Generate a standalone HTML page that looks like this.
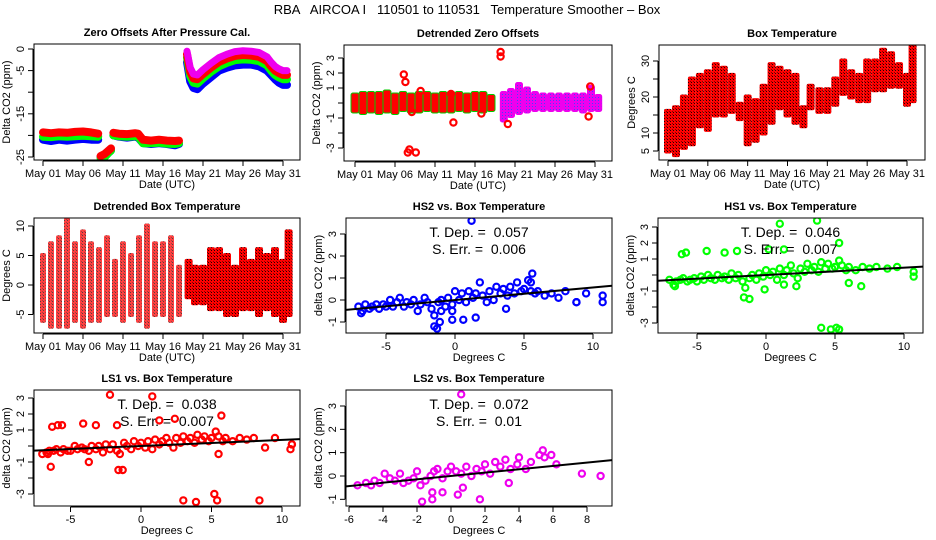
<!DOCTYPE html>
<html><head><meta charset="utf-8">
<style>
html,body{margin:0;padding:0;background:#fff;}
svg{display:block;font-family:"Liberation Sans",sans-serif;}
.pre{white-space:pre;}
</style></head>
<body>
<svg id="fig" width="936" height="540" viewBox="0 0 936 540" xmlns="http://www.w3.org/2000/svg">
<defs>
<pattern id="chk" width="3" height="3" patternUnits="userSpaceOnUse"><rect width="3" height="3" fill="#f00"/><rect x="1" y="1" width="1" height="1" fill="#200"/><rect x="0" y="0" width="1" height="1" fill="#800"/></pattern>
<pattern id="chk2" width="3" height="3" patternUnits="userSpaceOnUse"><rect width="3" height="3" fill="#e0e"/><rect x="1" y="1" width="1" height="1" fill="#44f"/></pattern>
</defs>
<text class="pre" x="467" y="14" text-anchor="middle" font-size="13">RBA   AIRCOA I   110501 to 110531   Temperature Smoother – Box</text>
</svg>
<script>
// ---------- data ----------
const dateTicks=[0,5,10,15,20,25,30];
const dateLabels=["May 01","May 06","May 11","May 16","May 21","May 26","May 31"];
const t1=[0,1,2,3,4,5,6,6.9,null,7.2,7.7,8.2,8.5,null,8.8,9.5,10.5,11.5,11.9,12.5,13.5,14.5,15.5,16.5,17,null,18,18.4,18.8,19.3,20,21,22,23,24,25,26,27,28,28.5,29,29.5,30,30.5];
const blue1=[-21,-21.3,-21,-21.2,-21,-20.8,-21,-21,null,-25,-25,-24,-23.5,null,-20,-20.3,-20.5,-20.3,-20.5,-21.8,-22,-21.8,-22,-22.3,-22,null,-3,-7.5,-9,-9.3,-8,-6.5,-5,-4.3,-3.8,-3.6,-3.6,-4,-5,-6,-7,-7.8,-8.3,-8.3];
const green1=[-20.3,-20.4,-20.2,-20.3,-20.2,-20.1,-20.2,-20.3,null,-25.3,-25,-24,-23.5,null,-20,-20.2,-20.3,-20.2,-20.3,-21.8,-21.8,-21.7,-21.9,-22,-21.8,null,-2,-6.3,-7.8,-8,-6.8,-5.3,-4,-3.2,-2.6,-2.4,-2.5,-2.8,-3.8,-5,-6,-6.6,-7,-7];
const red1=[-19.3,-19.5,-19.3,-19.4,-19.2,-19.1,-19.3,-19.6,null,-24.8,-24.3,-23.5,-23,null,-19.4,-19.6,-19.7,-19.5,-19.6,-21,-21.2,-21,-21.2,-21.3,-21.2,null,-1.2,-5.3,-6.8,-7,-5.8,-4.3,-3,-2.2,-1.6,-1.4,-1.5,-1.8,-2.8,-4,-5,-5.6,-6,-6];
const mag1=[null,null,null,null,null,null,null,null,null,null,null,null,null,null,null,null,null,null,null,null,null,null,null,null,null,null,-0.5,-4.3,-5.8,-6,-4.8,-3.3,-2,-1.2,-0.6,-0.4,-0.5,-0.8,-1.8,-3,-4,-4.6,-5,-5];
const t2=[0,1,2,3,4,5,6,7,8,9,10,11,12,13,14,15,16,17,18.6,19.5,20.5,21.5,22.5,23.5,24.5,25.5,26.5,27.5,28.5,29.5,30.4];
const lo2=[-0.5,-0.6,-0.5,-0.6,-0.5,-0.6,-0.4,-0.5,-0.5,-0.4,-0.5,-0.5,-0.5,-0.4,-0.5,-0.4,-0.5,-0.4,-1.1,-0.8,-0.6,-0.5,-0.4,-0.4,-0.4,-0.4,-0.4,-0.4,-0.5,-0.4,-0.4];
const hi2=[0.5,0.6,0.6,0.6,0.7,0.5,0.6,0.5,0.6,0.6,0.5,0.6,0.6,0.6,0.5,0.6,0.6,0.4,0.6,0.8,1.2,0.9,0.6,0.5,0.5,0.5,0.5,0.5,0.5,1.0,0.4];
const outT2=[6.1,6.3,6.6,6.8,7.6,7.1,12.3,15.8,18.2,18.2,19.1,29.2,29.4,8.2,12.0];
const outV2=[1.9,1.4,-3.3,-3.1,-3.3,-0.6,-1.3,-0.7,3.4,3.1,-1.4,-0.9,1.1,0.8,0.6];
const t3=[0,1,2,3,4,5,6,7,8,9,10,11,12,13,14,15,16,17,17.9,19,20,21,22,23,24,25,26,27,28,29,30,30.7];
const lo3=[5,4,6,7,12,11,15,15,16,14,7,8,10,13,17,15,13,12,17,16,16,18,21,20,19,19,22,22,23,23,18,19];
const hi3=[16,17,20,25,26,27,29,28,26,18,20,19,23,29,28,27,26,17,23,22,22,25,30,27,26,30,30,33,32,29,26,34];
const t4=[0,1,2,3,4,5,6,7,8,9,10,11,12,13,14,15,16,17,18.2,19,20,21,22,23,24,25,26,27,28,29,30,30.7];
const lo4=[-6,-7,-7,-7,-6,-7,-6,-6,-5,-5,-6,-5,-6,-7,-5,-5,-6,-5,-2,-3,-3,-4,-4,-5,-5,-4,-4,-5,-4,-5,-6,-5];
const hi4=[5,7,8,11,7,9,7,6,8,4,7,5,8,10,7,7,8,3,4,3,3,6,6,5,3,6,4,6,5,6,4,9];
const temp=[-7,-6.7,-6.5,-6.2,-6,-5.7,-5.5,-5.2,-5,-4.7,-4.5,-4.2,-4,-3.7,-3.5,-3.2,-3,-2.7,-2.5,-2.2,-2,-1.7,-1.5,-1.2,-1,-0.7,-0.5,-0.2,0,0.3,0.5,0.8,1,1.3,1.5,1.8,2,2.3,2.5,2.8,3,3.3,3.5,3.8,4,4.3,4.5,4.8,5,5.3,5.5,5.8,6,6.5,7,7.5,8,8.8,9.5,10.7];
const hs2=[-0.3,-0.5,-0.2,-0.4,-0.3,-0.2,-0.4,-0.2,-0.3,0,-0.3,-0.1,0.1,-0.3,-0.1,-0.2,0,-0.5,-0.2,0.1,-0.1,-0.4,-0.7,-0.1,0,-0.3,0.1,-0.2,0.4,0,0.3,-0.1,0.4,0.1,0.3,0.8,0.2,-0.1,0.4,0,0.6,0.3,0.5,0.2,0.6,0.3,0.8,0.4,0.5,0.9,0.4,0.3,0.4,0.2,0.3,0.1,0.4,-0.1,0.3,0.2];
const hs2OutX=[-1.5,-1.3,-1.1,-0.2,0.6,1.5,1.2,5.6,10.7,8.8,3.7,-6.8,-0.2,-1.0,5.5];
const hs2OutY=[-1.2,-1.3,-1.0,-0.9,-0.9,-0.8,3.6,1.2,-0.1,-0.1,-0.4,-0.6,-0.5,-0.5,0.8];
const hs1=[-0.3,-0.6,-0.4,-0.3,-0.2,-0.4,-0.3,-0.2,-0.4,-0.1,-0.3,0,-0.2,-0.3,0,-0.2,-0.1,-0.3,0.1,-0.2,0,-0.4,-0.8,-0.2,0,-0.3,0.1,-0.1,0.3,0,0.2,-0.3,0.4,0,0.3,0.6,0.1,-0.2,0.4,0.2,0.7,0.3,0.5,0.2,0.8,0.4,0.7,0.4,0.5,0.9,0.6,0.3,0.5,0.3,0.5,0.4,0.5,0.4,0.5,-0.1];
const hs1OutX=[-6.1,-5.8,-4.3,-3,-2.1,1,3.7,0.2,1.3,5.3,-1.6,-1.2,-0.1,4,4.7,5.1,5.3,6,6.9,-6.6,1.3,2.2,10.7];
const hs1OutY=[1.3,1.4,1.5,1.4,1.5,3.2,3.4,1.6,1.6,2,-1.4,-1.5,-0.9,-3.3,-3.4,-3.3,-3.4,-0.5,-0.7,-0.7,-0.6,-0.7,0.2];
const ls1=[-0.5,-0.4,-0.3,-0.3,-0.2,-0.4,-0.2,-0.3,-0.3,0,-0.2,-0.1,-0.2,-0.3,0,-0.2,0,-0.4,0.1,-0.2,0.1,-0.3,-0.5,0.2,0,-0.2,0.3,0,0.2,-0.1,0.3,-0.2,0.4,0.1,0.3,0.5,0.2,-0.1,0.5,0.2,0.6,0.3,0.5,0.2,0.7,0.4,0.6,0.3,0.5,0.9,0.6,0.3,0.5,0.3,0.5,0.4,0.5,-0.1,0.5,0.1];
const ls1OutX=[-6.3,-5.9,-5.6,-4.1,-3.2,-2.2,0.8,-1.7,1.3,2.4,5.7,-6.4,-3.7,-1.6,-1.3,3,3.9,5.2,5.4,8.4,-6.6,5.5,10.6,10.7];
const ls1OutY=[1.2,1.3,1.3,1.4,1.3,3.2,3.1,1.3,1.6,1.7,1.9,-1.3,-1,-1.5,-1.5,-3.4,-3.5,-3,-3.4,-3.4,-0.5,-0.5,-0.2,0.1];
const ls2X=[-5.5,-5,-4.7,-4.5,-4.2,-3.9,-3.6,-3.3,-3,-2.8,-2.5,-2.2,-2,-1.8,-1.5,-1.2,-1,-0.8,-0.5,-0.2,0,0.3,0.6,0.9,1.2,1.5,1.8,2,2.3,2.6,2.9,3.2,3.5,3.9,4,4.4,4.7,5.2,5.4,5.5,5.9,6.2,7.7,8.8,0.6,-1.7,-1.1,1.7,-1.1,0.4,-0.5,3.4,0.7];
const ls2Y=[-0.4,-0.3,-0.4,-0.2,-0.3,0.1,-0.1,-0.2,0.1,-0.3,-0.2,-0.1,0.2,-0.4,-0.2,0,0.2,0.3,-0.1,0.2,0.4,0.2,0.1,0.4,0,0.3,0.2,0.5,0.1,0.6,0.4,0.7,0.3,0.5,0.8,0.3,0.6,0.9,1.1,0.8,0.9,0.5,0.1,0,3.5,-1.1,-1,-1,-0.7,-0.8,-0.7,-0.3,-0.5];
const slopes=[0.057,0.046,0.038,0.072];
const serrs=["0.006","0.007","0.007","0.01"];

const NS="http://www.w3.org/2000/svg";
const svg=document.getElementById('fig');
function mk(tag,attrs,parent){const e=document.createElementNS(NS,tag);for(const k in attrs)e.setAttribute(k,attrs[k]);(parent||svg).appendChild(e);return e;}
function lin(d0,d1,r0,r1){return v=>r0+(v-d0)*(r1-r0)/(d1-d0);}

function panel(id,box,sx,sy,xt,xl,yt,yl,title,xtitle,ytitle){
  const g=mk('g',{});
  
  
  const [x0,y0,x1,y1]=box;
  const cp=mk('clipPath',{id:'c'+id},g);
  mk('rect',{x:x0,y:y0,width:x1-x0,height:y1-y0},cp);
  const plot=mk('g',{'clip-path':'url(#c'+id+')'},g);
  
  
  const frame=mk('rect',{x:x0,y:y0,width:x1-x0,height:y1-y0,fill:'none',stroke:'#000','stroke-width':1},g);
  
  
  const xa=mk('g',{},g);
  
  
  mk('line',{x1:sx(xt[0]),x2:sx(xt[xt.length-1]),y1:y1+1,y2:y1+1,stroke:'#000'},xa);
  xt.forEach((v,i)=>{
    const X=sx(v);
    mk('line',{x1:X,x2:X,y1:y1+1,y2:y1+6,stroke:'#000'},xa);
    if(xl[i]!==''){const t=mk('text',{x:X,y:y1+17,'text-anchor':'middle','font-size':11},xa);t.textContent=xl[i];
    
    }
  });
  const ya=mk('g',{},g);
  
  
  mk('line',{x1:x0-1,x2:x0-1,y1:sy(yt[0]),y2:sy(yt[yt.length-1]),stroke:'#000'},ya);
  yt.forEach((v,i)=>{
    const Y=sy(v);
    mk('line',{x1:x0-1,x2:x0-6,y1:Y,y2:Y,stroke:'#000'},ya);
    if(yl[i]!==''){const t=mk('text',{x:x0-10,y:Y,'text-anchor':'middle','font-size':11,transform:'rotate(-90 '+(x0-10)+' '+Y+')'},ya);t.textContent=yl[i];
    
    }
  });
  const tt=mk('text',{x:(x0+x1)/2,y:y0-8,'text-anchor':'middle','font-size':11,'font-weight':'bold'},g);tt.textContent=title;
  
  
  const xti=mk('text',{x:(x0+x1)/2,y:y1+28,'text-anchor':'middle','font-size':11},g);xti.textContent=xtitle;
  
  
  const yx=x0-24,yy=(y0+y1)/2;
  const yti=mk('text',{x:yx,y:yy,'text-anchor':'middle','font-size':11,transform:'rotate(-90 '+yx+' '+yy+')'},g);yti.textContent=ytitle;
  
  
  return plot;
}
function polyline(plot,t,v,sx,sy,color,w,name){
  let segs=[],cur=[];
  t.forEach((tt,i)=>{if(tt===null||v[i]===null){if(cur.length)segs.push(cur);cur=[];}else cur.push(sx(tt).toFixed(1)+','+sy(v[i]).toFixed(1));});
  if(cur.length)segs.push(cur);
  segs.forEach(s=>{
    const p=mk('polyline',{points:s.join(' '),fill:'none',stroke:color,'stroke-width':w,'stroke-linejoin':'round','stroke-linecap':'round'},plot);
    
    
  });
}
function bars(plot,t,lo,hi,sx,sy,fill,edge,w,name,op){
  t.forEach((tt,i)=>{
    const X=sx(tt),Ya=sy(hi[i]),Yb=sy(lo[i]);
    const ww=typeof w==='function'?w(tt):w;
    const r=mk('rect',{x:X-ww/2,y:Ya-2.5,width:ww,height:Yb-Ya+5,rx:2,fill:fill,stroke:edge,'stroke-width':edge==='none'?0:1,opacity:op?op(tt):1},plot);
    
    
  });
}
function points(plot,xs,ys,sx,sy,color,name){
  xs.forEach((x,i)=>{
    const c=mk('circle',{cx:sx(x),cy:sy(ys[i]),r:3.1,fill:'none',stroke:color,'stroke-width':2.2},plot);
    
    
  });
}
function fitline(plot,slope,sx,sy,xa,xb){
  const l=mk('line',{x1:sx(xa),y1:sy(slope*xa),x2:sx(xb),y2:sy(slope*xb),stroke:'#000','stroke-width':2},plot);
  
  
}
function stats(box,k){
  const cx=(box[0]+box[2])/2;
  const a=mk('text',{x:cx,y:box[1]+19,'text-anchor':'middle','font-size':14,'class':'pre'});
  a.textContent='T. Dep. =  '+slopes[k];
  
  
  const b=mk('text',{x:cx,y:box[1]+36,'text-anchor':'middle','font-size':14,'class':'pre'});
  b.textContent='S. Err. =  '+serrs[k];
  
  
}

{const box=[34,44,300,160],sx=lin(0,30,43,283),sy=lin(0,-25,49,157);
 const p=panel('zero-offsets',box,sx,sy,dateTicks,dateLabels,[0,-5,-10,-15,-20,-25],['0','-5','','-15','','-25'],'Zero Offsets After Pressure Cal.','Date (UTC)','Delta CO2 (ppm)');
 polyline(p,t1,blue1,sx,sy,'#00f',8,'series-ls2-blue');
 polyline(p,t1,green1,sx,sy,'#0f0',8,'series-hs1-green');
 polyline(p,t1,red1,sx,sy,'#f00',8,'series-ls1-red');
 polyline(p,t1,mag1,sx,sy,'#e0e',7,'series-magenta');}
{const box=[344,45,612,161],sx=lin(0,30,355,595),sy=lin(0,3,103,58);
 const p=panel('detrended-zero-offsets',box,sx,sy,dateTicks,dateLabels,[3,2,1,0,-1,-2,-3],['3','2','1','','-1','','-3'],'Detrended Zero Offsets','Date (UTC)','Delta CO2 (ppm)');
 const tr=t2.filter(t=>t<18),tm=t2.filter(t=>t>=18);
 bars(p,tr,lo2.slice(0,tr.length),hi2.slice(0,tr.length),sx,sy,'#f00','#0c0',8,'detrended-red-band');
 bars(p,tm,lo2.slice(tr.length),hi2.slice(tr.length),sx,sy,'url(#chk2)','#e0e',7,'detrended-magenta-band');
 points(p,outT2,outV2,sx,sy,'#f00','outlier-point');}
{const box=[659,45,925,160],sx=lin(0,30,668,907),sy=lin(5,30,151,61);
 const p=panel('box-temperature',box,sx,sy,dateTicks,dateLabels,[5,10,15,20,25,30],['5','10','','20','','30'],'Box Temperature','Date (UTC)','Degrees C');
 bars(p,t3,lo3,hi3,sx,sy,'url(#chk)','none',8,'box-temp-band');}
{const box=[34,218,300,333],sx=lin(0,30,43,283),sy=lin(0,10,285,226);
 const p=panel('detrended-box-temperature',box,sx,sy,dateTicks,dateLabels,[-5,0,5,10],['-5','0','5','10'],'Detrended Box Temperature','Date (UTC)','Degrees C');
 bars(p,t4,lo4,hi4,sx,sy,'url(#chk)','none',t=>t<17.5?6:8,'detrended-temp-band',t=>t<17.5?0.75:1);}
{const box=[346,218,612,333],sx=lin(0,10,455,593),sy=lin(0,3,300,234);
 const p=panel('hs2-vs-temp',box,sx,sy,[-5,0,5,10],['-5','0','5','10'],[-1,0,1,2,3],['-1','0','1','2','3'],'HS2 vs. Box Temperature','Degrees C','delta CO2 (ppm)');
 points(p,temp,hs2,sx,sy,'#00f','hs2-point');
 points(p,hs2OutX,hs2OutY,sx,sy,'#00f','hs2-point');
 fitline(p,slopes[0],sx,sy,-9,13);
 stats(box,0);}
{const box=[658,218,923,333],sx=lin(0,10,766,904),sy=lin(0,3,275,227);
 const p=panel('hs1-vs-temp',box,sx,sy,[-5,0,5,10],['-5','0','5','10'],[-3,-2,-1,0,1,2,3],['-3','','-1','','1','2','3'],'HS1 vs. Box Temperature','Degrees C','delta CO2 (ppm)');
 points(p,temp,hs1,sx,sy,'#0f0','hs1-point');
 points(p,hs1OutX,hs1OutY,sx,sy,'#0f0','hs1-point');
 fitline(p,slopes[1],sx,sy,-9,13);
 stats(box,1);}
{const box=[34,390,300,506],sx=lin(0,10,141,282),sy=lin(0,3,446,398);
 const p=panel('ls1-vs-temp',box,sx,sy,[-5,0,5,10],['-5','0','5','10'],[-3,-2,-1,0,1,2,3],['-3','','-1','','1','2','3'],'LS1 vs. Box Temperature','Degrees C','delta CO2 (ppm)');
 points(p,temp,ls1,sx,sy,'#f00','ls1-point');
 points(p,ls1OutX,ls1OutY,sx,sy,'#f00','ls1-point');
 fitline(p,slopes[2],sx,sy,-9,13);
 stats(box,2);}
{const box=[346,390,612,506],sx=lin(0,8,451,587),sy=lin(0,3,476,406);
 const p=panel('ls2-vs-temp',box,sx,sy,[-6,-4,-2,0,2,4,6,8],['-6','-4','-2','0','2','4','6','8'],[-1,0,1,2,3],['-1','0','1','2','3'],'LS2 vs. Box Temperature','Degrees C','delta CO2 (ppm)');
 points(p,ls2X,ls2Y,sx,sy,'#e0e','ls2-point');
 fitline(p,slopes[3],sx,sy,-7,10);
 stats(box,3);}
</script>
</body></html>
